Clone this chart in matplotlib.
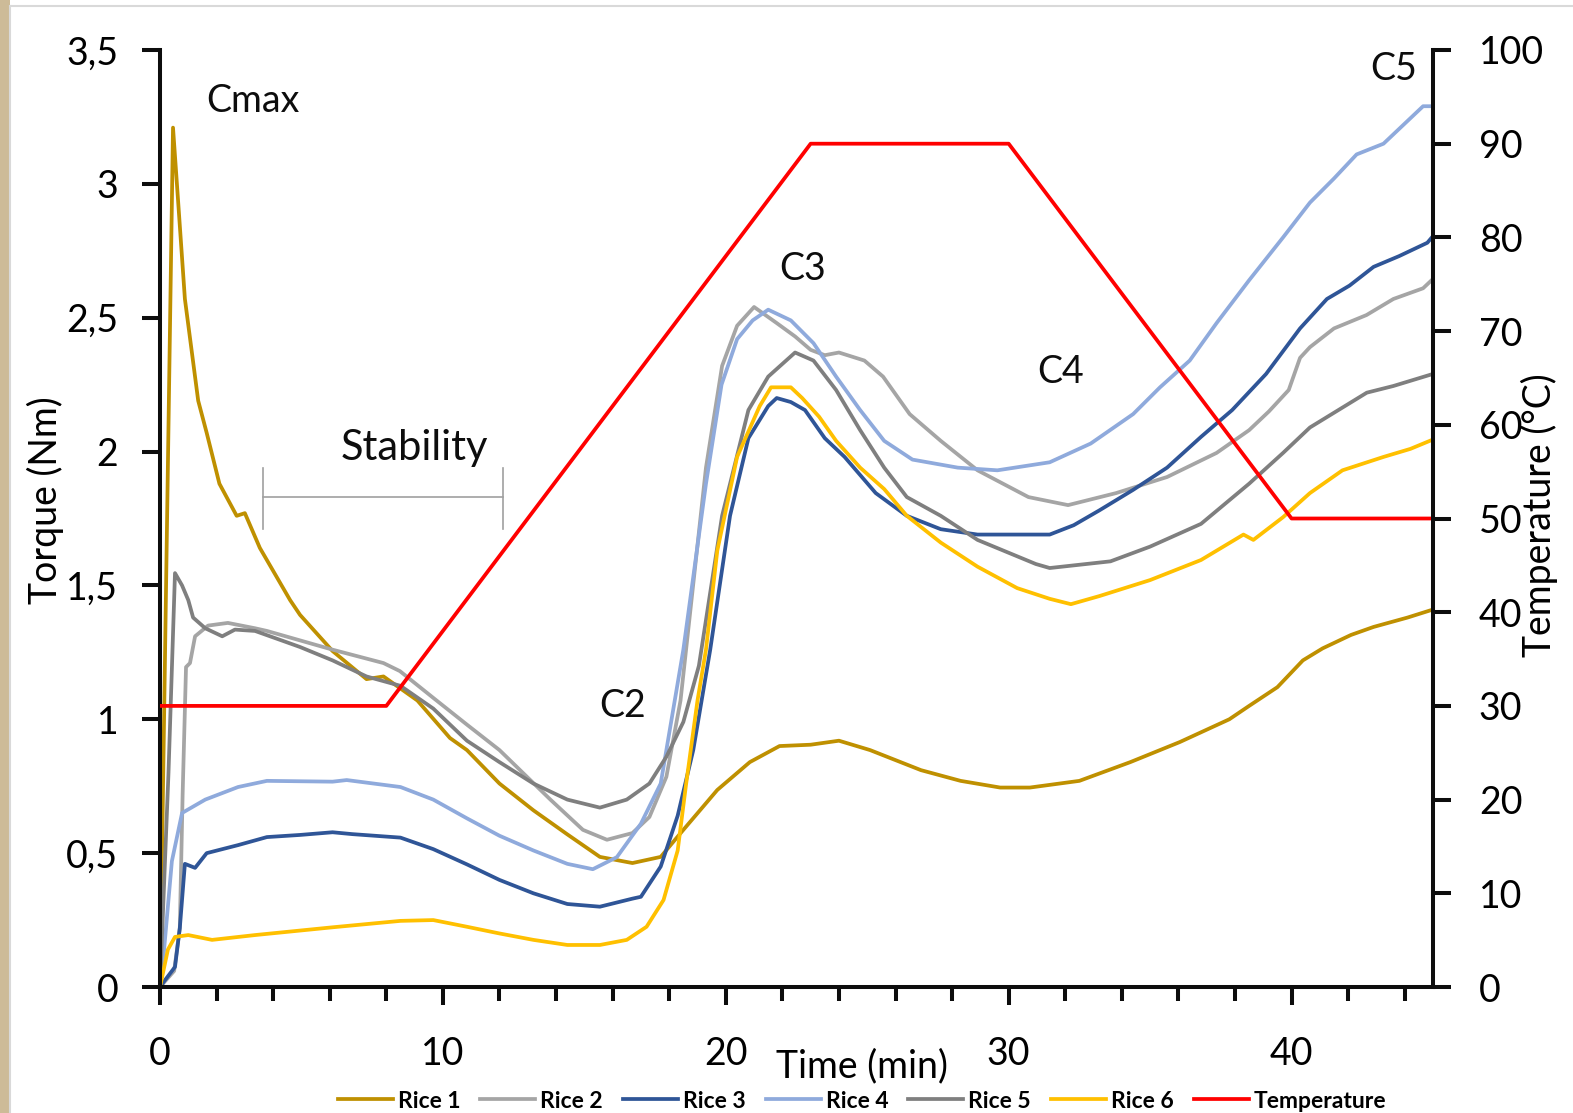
import matplotlib
matplotlib.use("Agg")
import matplotlib.pyplot as plt
from matplotlib.ticker import MultipleLocator, FixedLocator, FixedFormatter
from matplotlib.patches import Rectangle
from matplotlib.lines import Line2D

plt.rcParams['font.family'] = ['Lato', 'DejaVu Sans']

# ---------------- data ----------------
rice1_t = [0, 0.46, 0.88, 1.35, 1.65, 2.1, 2.71, 3.0, 3.53, 4.6, 4.95, 6.1, 7.3, 7.9, 9.1, 10.25, 10.85,
           12.0, 13.2, 14.4, 15.55, 16.7, 17.7, 18.5, 19.7, 20.85, 21.9, 23.0, 24.0, 25.1, 26.9, 28.3,
           29.7, 30.75, 32.5, 34.3, 36.05, 37.8, 38.5, 39.5, 40.4, 41.1, 42.1, 42.9, 44.1, 45]
rice1_y = [0, 3.21, 2.57, 2.19, 2.07, 1.88, 1.76, 1.77, 1.64, 1.445, 1.39, 1.255, 1.15, 1.16, 1.07, 0.93, 0.885,
           0.76, 0.66, 0.57, 0.486, 0.463, 0.486, 0.587, 0.736, 0.84, 0.90, 0.905, 0.92, 0.885, 0.81, 0.77,
           0.745, 0.745, 0.77, 0.84, 0.915, 1.0, 1.05, 1.12, 1.22, 1.265, 1.315, 1.345, 1.38, 1.41]

rice2_t = [0, 0.5, 0.7, 0.8, 0.92, 1.06, 1.24, 1.7, 2.4, 3.36, 3.78, 6.1, 7.9, 8.48, 9.66, 10.85, 12.0, 13.8,
           14.95, 15.8, 16.7, 17.3, 17.9, 18.4, 19.3, 19.87, 20.4, 21.0, 21.8, 22.45, 23.0, 23.5, 24.0,
           24.9, 25.56, 26.5, 27.6, 28.9, 30.7, 32.1, 33.8, 35.6, 37.35, 38.5, 39.2, 39.9, 40.3, 40.65,
           41.5, 42.65, 43.6, 44.65, 45]
rice2_y = [0, 0.06, 0.22, 0.72, 1.195, 1.21, 1.31, 1.35, 1.36, 1.34, 1.33, 1.26, 1.21, 1.18, 1.08, 0.98, 0.885, 0.70,
           0.587, 0.55, 0.575, 0.635, 0.785, 1.07, 1.94, 2.32, 2.47, 2.54, 2.48, 2.43, 2.38, 2.36, 2.37,
           2.34, 2.28, 2.14, 2.04, 1.93, 1.83, 1.80, 1.845, 1.905, 1.995, 2.08, 2.15, 2.23, 2.35, 2.39,
           2.46, 2.51, 2.57, 2.61, 2.645]

rice3_t = [0, 0.18, 0.53, 0.7, 0.88, 1.24, 1.65, 2.76, 3.78, 4.95, 6.1, 6.8, 8.5, 9.66, 10.85, 12.0, 13.2,
           14.4, 15.55, 16.7, 17.0, 17.7, 18.3, 18.85, 19.45, 20.15, 20.8, 21.5, 21.8, 22.3, 22.8, 23.5,
           24.2, 25.3, 26.4, 27.6, 28.9, 30.3, 31.45, 32.3, 33.2, 34.4, 35.6, 36.8, 37.9, 39.1, 40.3,
           41.25, 42.05, 42.9, 43.8, 44.8, 45]
rice3_y = [0, 0.026, 0.075, 0.22, 0.46, 0.445, 0.50, 0.53, 0.56, 0.568, 0.578, 0.571, 0.558, 0.515, 0.458, 0.40, 0.35,
           0.31, 0.30, 0.33, 0.337, 0.45, 0.64, 0.885, 1.26, 1.76, 2.05, 2.17, 2.20, 2.185, 2.155, 2.05,
           1.98, 1.845, 1.76, 1.71, 1.69, 1.69, 1.69, 1.725, 1.78, 1.857, 1.94, 2.055, 2.155, 2.29, 2.46,
           2.57, 2.62, 2.69, 2.73, 2.78, 2.805]

rice4_t = [0, 0.07, 0.42, 0.78, 1.6, 2.76, 3.78, 6.1, 6.6, 8.5, 9.66, 10.85, 12.0, 13.2, 14.4, 15.3, 16.15,
           17.0, 17.7, 18.1, 18.5, 19.3, 19.85, 20.4, 20.95, 21.5, 22.3, 23.1, 23.9, 24.75, 25.6, 26.6,
           28.2, 29.6, 31.45, 32.9, 34.4, 35.35, 36.4, 37.35, 38.5, 39.7, 40.65, 41.5, 42.3, 43.25, 43.95,
           44.65, 45]
rice4_y = [0, 0.05, 0.47, 0.65, 0.70, 0.747, 0.77, 0.767, 0.773, 0.747, 0.70, 0.63, 0.565, 0.51, 0.46, 0.44, 0.485,
           0.61, 0.76, 1.01, 1.26, 1.88, 2.25, 2.42, 2.49, 2.53, 2.49, 2.405, 2.28, 2.155, 2.04, 1.97,
           1.94, 1.93, 1.96, 2.03, 2.14, 2.24, 2.34, 2.48, 2.64, 2.80, 2.93, 3.02, 3.11, 3.15, 3.22,
           3.29, 3.29]

rice5_t = [0, 0.3, 0.53, 0.78, 1.0, 1.17, 1.6, 2.2, 2.65, 3.36, 4.95, 6.1, 7.3, 8.5, 9.66, 10.85, 12.0, 13.2,
           14.4, 15.55, 16.5, 17.3, 17.9, 18.5, 19.05, 19.87, 20.8, 21.5, 22.45, 23.1, 23.9, 24.75, 25.6,
           26.4, 27.6, 28.9, 30.96, 31.45, 33.6, 35.0, 36.8, 38.5, 39.7, 40.65, 42.66, 43.6, 45]
rice5_y = [0, 0.8, 1.546, 1.50, 1.445, 1.38, 1.34, 1.31, 1.335, 1.33, 1.27, 1.22, 1.16, 1.125, 1.04, 0.92, 0.84, 0.76,
           0.70, 0.67, 0.70, 0.76, 0.86, 0.99, 1.2, 1.76, 2.155, 2.28, 2.37, 2.34, 2.23, 2.08, 1.94,
           1.83, 1.76, 1.67, 1.58, 1.565, 1.59, 1.645, 1.73, 1.88, 1.995, 2.09, 2.22, 2.245, 2.29]

rice6_t = [0, 0.28, 0.53, 1.0, 1.84, 3.36, 6.1, 8.5, 9.66, 10.85, 12.0, 13.2, 14.4, 15.55, 16.5, 17.2, 17.8,
           18.3, 18.6, 19.0, 19.3, 19.7, 20.4, 21.2, 21.6, 22.3, 22.7, 23.3, 23.9, 24.75, 25.6, 26.4,
           27.6, 28.9, 30.3, 31.45, 32.2, 33.2, 35.0, 36.8, 38.3, 38.65, 39.7, 40.65, 41.8, 43.25, 44.2, 45]
rice6_y = [0, 0.14, 0.187, 0.194, 0.176, 0.194, 0.223, 0.247, 0.25, 0.225, 0.20, 0.176, 0.157, 0.157, 0.176, 0.225, 0.325,
           0.51, 0.76, 1.07, 1.26, 1.63, 1.98, 2.17, 2.24, 2.24, 2.20, 2.13, 2.04, 1.94, 1.86, 1.76,
           1.66, 1.57, 1.49, 1.45, 1.43, 1.46, 1.52, 1.595, 1.69, 1.67, 1.755, 1.845, 1.93, 1.98, 2.01, 2.045]

temp_t = [0, 8, 23, 30, 40, 45]
temp_y = [30, 30, 90, 90, 50, 50]

series_names = ["Rice 1", "Rice 2", "Rice 3", "Rice 4", "Rice 5", "Rice 6"]
series_colors = ["#BF9000", "#A5A5A5", "#2F5597", "#8FAADC", "#7F7F7F", "#FFC000"]
temp_name = "Temperature"
temp_color = "#FF0000"

torque_ticks = [0, 0.5, 1, 1.5, 2, 2.5, 3, 3.5]
torque_labels = ["0", "0,5", "1", "1,5", "2", "2,5", "3", "3,5"]
temp_ticks = [0, 10, 20, 30, 40, 50, 60, 70, 80, 90, 100]
time_ticks = [0, 10, 20, 30, 40]

# annotations: (text, x, baseline y)
annotations = [("Cmax", 3.30, 3.269), ("C2", 16.35, 1.009), ("C3", 22.73, 2.641),
               ("C4", 31.85, 2.256), ("C5", 43.6, 3.388)]
stability_label = ("Stability", 9.01, 1.969)
stability_x = (3.64, 12.12)
stability_y = 1.83
stability_cap = (1.71, 1.94)

# ---------------- figure ----------------
W, H = 1573, 1113
fig = plt.figure(figsize=(W / 100, H / 100), dpi=100)
fig.patches.append(Rectangle((0, 0), 10 / W, 1, transform=fig.transFigure,
                             facecolor="#CDBB98", edgecolor="none", zorder=0))
fig.lines.append(Line2D([10 / W, 10 / W], [0, 1 - 6 / H], transform=fig.transFigure,
                        color="#D9D9D9", lw=1.5))
fig.lines.append(Line2D([10 / W, 1], [1 - 6 / H, 1 - 6 / H], transform=fig.transFigure,
                        color="#D9D9D9", lw=1.5))

left, right = 160 / W, 1433 / W
bottom, top = 1 - 987 / H, 1 - 50 / H
ax = fig.add_axes([left, bottom, right - left, top - bottom])
ax2 = ax.twinx()

LW = 2.7
all_t = [rice1_t, rice2_t, rice3_t, rice4_t, rice5_t, rice6_t]
all_y = [rice1_y, rice2_y, rice3_y, rice4_y, rice5_y, rice6_y]
handles = []
for t, y, name, c in zip(all_t, all_y, series_names, series_colors):
    h, = ax.plot(t, y, color=c, lw=LW, label=name, solid_joinstyle="round")
    handles.append(h)
ht, = ax2.plot(temp_t, temp_y, color=temp_color, lw=LW, label=temp_name)
handles.append(ht)

ax.set_xlim(0, 45)
ax.set_ylim(0, 3.5)
ax2.set_ylim(0, 100)

SPW = 2.9
for s in ["top", "right"]:
    ax.spines[s].set_visible(False)
for s in ["top", "left", "bottom"]:
    ax2.spines[s].set_visible(False)
ax.spines["left"].set_linewidth(SPW)
ax.spines["bottom"].set_linewidth(SPW)
ax2.spines["right"].set_linewidth(SPW)
for sp in [ax.spines["left"], ax.spines["bottom"], ax2.spines["right"]]:
    sp.set_color("#0D0D0D")

ax.yaxis.set_major_locator(FixedLocator(torque_ticks))
ax.yaxis.set_major_formatter(FixedFormatter(torque_labels))
ax2.yaxis.set_major_locator(FixedLocator(temp_ticks))
ax.xaxis.set_major_locator(FixedLocator(time_ticks))
ax.xaxis.set_minor_locator(MultipleLocator(2))

FS = 27
ax.tick_params(axis="y", direction="out", length=13, width=SPW, labelsize=FS, pad=17, color="#0D0D0D")
ax2.tick_params(axis="y", direction="out", length=13, width=SPW, labelsize=FS, pad=20, color="#0D0D0D")
ax.tick_params(axis="x", which="major", direction="out", length=13, width=SPW, labelsize=FS, pad=22, color="#0D0D0D")
ax.tick_params(axis="x", which="minor", direction="out", length=10, width=SPW, color="#0D0D0D")

ax.set_ylabel("Torque (Nm)", fontsize=FS)
ax.yaxis.set_label_coords(-0.0755, 0.52)
ax2.set_ylabel("Temperature (°C)", fontsize=FS)
ax2.yaxis.set_label_coords(1.069, 0.504)
ax.set_xlabel("Time (min)", fontsize=FS)
ax.xaxis.set_label_coords(0.5515, -0.065)

for txt, x, y in annotations:
    ax.text(x, y, txt, fontsize=FS, ha="center", va="baseline", color="#0D0D0D")
ax.text(stability_label[1], stability_label[2], stability_label[0], fontsize=30,
        ha="center", va="baseline", color="#0D0D0D")
ax.plot(stability_x, [stability_y, stability_y], color="#A0A0A0", lw=1.2)
for xb in stability_x:
    ax.plot([xb, xb], stability_cap, color="#A0A0A0", lw=1.2)

fig.legend(handles=handles, labels=series_names + [temp_name], loc="center",
           bbox_to_anchor=(862 / W, 1 - 1101 / H), ncol=7, frameon=False,
           prop={"weight": "bold", "size": 16.5}, handlelength=2.4, handletextpad=0.22,
           columnspacing=0.87, borderaxespad=0, borderpad=0)

fig.savefig("out.png", dpi=100)
